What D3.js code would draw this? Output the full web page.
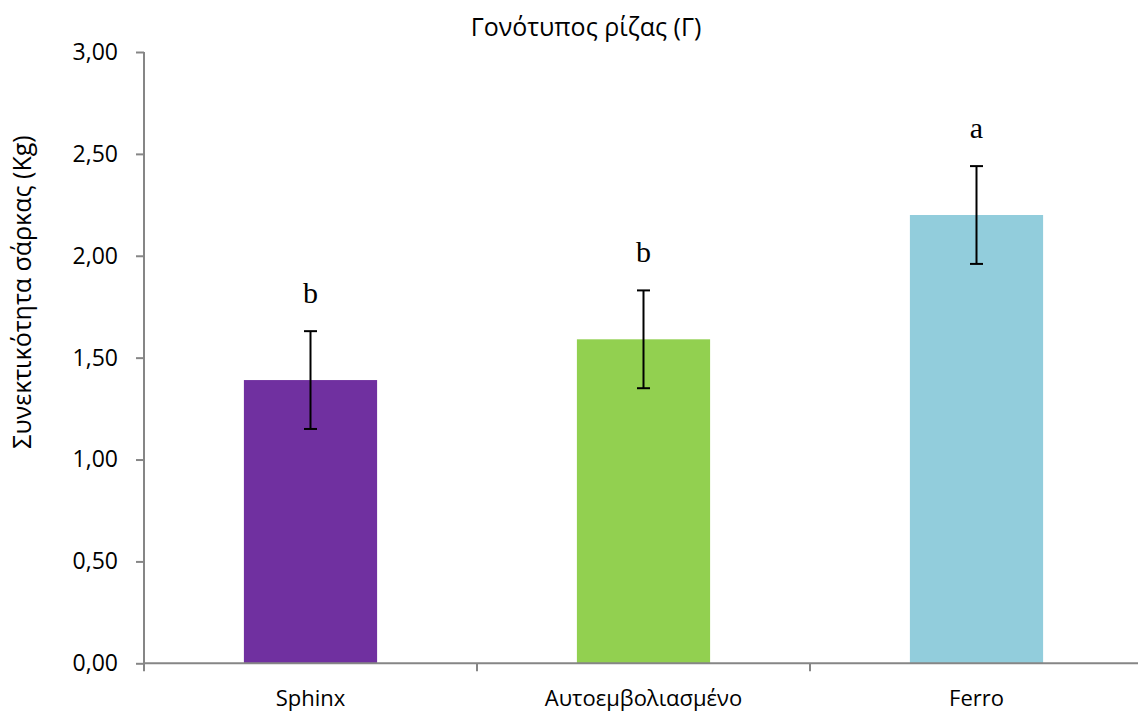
<!DOCTYPE html>
<html><head><meta charset="utf-8">
<script src="https://cdn.jsdelivr.net/npm/d3@7"></script>
<style>body{margin:0;background:#fff}svg{display:block}text{font-family:"Open Sans","Noto Sans",sans-serif}</style>
</head><body><svg id="c" width="1138" height="716"></svg>
<script>
const categories = ["Sphinx", "Αυτοεμβολιασμένο", "Ferro"];
const values = [1.39, 1.59, 2.20];
const errors = [0.24, 0.24, 0.24];
const letters = ["b", "b", "a"];
const colors = ["#7030A0", "#92D050", "#92CDDC"];
const yTicks = [0, 0.5, 1, 1.5, 2, 2.5, 3];
const title = "Γονότυπος ρίζας (Γ)";
const yLabel = "Συνεκτικότητα σάρκας (Kg)";

(function () {
const svg = d3.select("#c");
const pL = 144, pR = 1143, pT = 52, pB = 663.3;
const x = d3.scaleBand().domain(categories).range([pL, pR]).paddingInner(0.6).paddingOuter(0.3);
const xb = d3.scaleBand().domain(categories).range([pL, pR]);
const y = d3.scaleLinear().domain([0, 3]).range([pB, pT]);
const fmt = v => d3.format(".2f")(v).replace(".", ",");
const axisColor = "#868686";

// y axis
const ya = svg.append("g").attr("transform", `translate(${pL},0)`)
  .call(d3.axisLeft(y).tickValues(yTicks).tickFormat(fmt).tickSize(8).tickPadding(18));
ya.select(".domain").attr("stroke", axisColor).attr("stroke-width", 2).attr("d", `M0,${pT}V${pB}`);
ya.selectAll(".tick line").attr("stroke", axisColor).attr("stroke-width", 2);
ya.selectAll(".tick text").attr("fill", "#000").style("font-size", "23px");

// bars
svg.selectAll("rect.bar").data(categories).enter().append("rect")
  .attr("x", d => x(d)).attr("width", x.bandwidth())
  .attr("y", (d, i) => y(values[i])).attr("height", (d, i) => y(0) - y(values[i]))
  .attr("fill", (d, i) => colors[i]);

// x axis
const xa = svg.append("g").attr("transform", `translate(0,${pB})`)
  .call(d3.axisBottom(xb).tickSize(0).tickPadding(27));
xa.select(".domain").attr("stroke", axisColor).attr("stroke-width", 2).attr("d", `M${pL},0H${pR}`);
xa.selectAll(".tick text").attr("fill", "#000").style("font-size", "22px");
const bounds = [pL].concat(categories.map(c => xb(c) + xb.bandwidth()));
xa.selectAll("line.bt").data(bounds).enter().append("line")
  .attr("x1", d => d).attr("x2", d => d).attr("y1", 0).attr("y2", 8)
  .attr("stroke", axisColor).attr("stroke-width", 2);

// error bars
const eb = svg.append("g").attr("stroke", "#000").attr("stroke-width", 2);
categories.forEach((c, i) => {
  const cx = x(c) + x.bandwidth() / 2;
  const y1 = y(values[i] + errors[i]), y2 = y(values[i] - errors[i]);
  eb.append("line").attr("x1", cx).attr("x2", cx).attr("y1", y1).attr("y2", y2);
  eb.append("line").attr("x1", cx - 6.5).attr("x2", cx + 6.5).attr("y1", y1).attr("y2", y1);
  eb.append("line").attr("x1", cx - 6.5).attr("x2", cx + 6.5).attr("y1", y2).attr("y2", y2);
  svg.append("text").attr("x", cx).attr("y", y1 - 28).attr("text-anchor", "middle")
    .style("font-family", "'Liberation Serif','DejaVu Serif',serif").style("font-size", "30px")
    .text(letters[i]);
});

svg.append("text").attr("x", 586).attr("y", 36).attr("text-anchor", "middle")
  .style("font-size", "25px").text(title);
svg.append("text").attr("transform", "translate(31,292) rotate(-90)").attr("text-anchor", "middle")
  .style("font-size", "25px").text(yLabel);
})();
</script></body></html>
